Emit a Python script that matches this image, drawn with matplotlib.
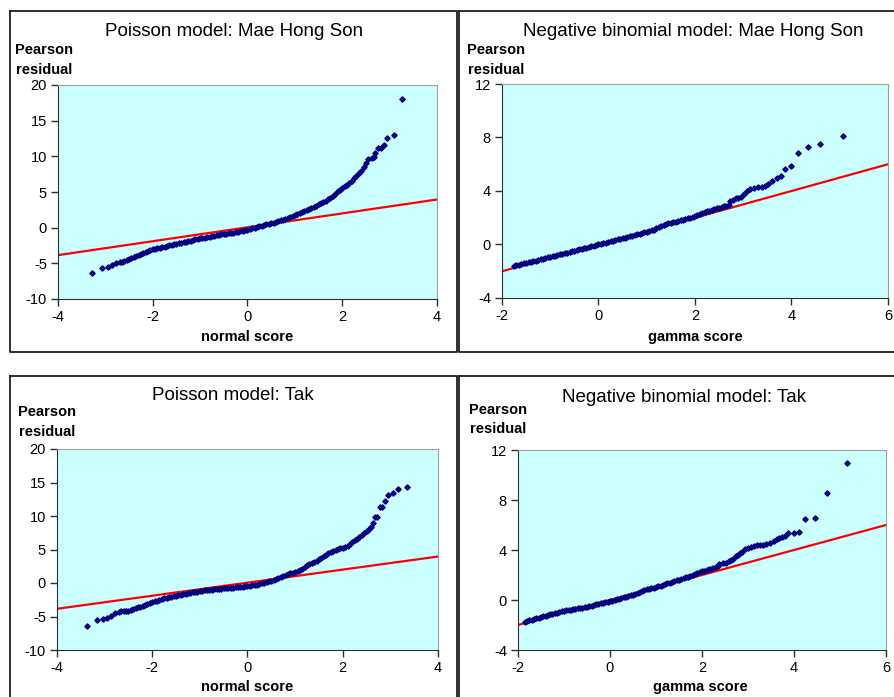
import matplotlib
matplotlib.use("Agg")
import matplotlib.pyplot as plt
from matplotlib.lines import Line2D

plt.rcParams['font.family'] = ['Liberation Sans', 'DejaVu Sans']
plt.rcParams['axes.unicode_minus'] = False

# ---------------------------------------------
#  data
# ---------------------------------------------

# Poisson model: Mae Hong Son (normal score, Pearson residual)
pois_mhs_x = [-3.28, -3.08, -2.95, -2.85, -2.78,
              -2.70, -2.65, -2.60, -2.55, -2.50, -2.45, -2.40, -2.35, -2.30, -2.25,
              -2.20, -2.15, -2.10, -2.05, -2.00, -1.95, -1.90, -1.85, -1.80, -1.75,
              -1.70, -1.65, -1.60, -1.55, -1.50, -1.45, -1.40, -1.35, -1.30, -1.25,
              -1.20, -1.15, -1.10, -1.05, -1.00, -0.95, -0.90, -0.85, -0.80, -0.75,
              -0.70, -0.65, -0.60, -0.55, -0.50, -0.45, -0.40, -0.35, -0.30, -0.25,
              -0.20, -0.15, -0.10, -0.05, 0.00, 0.05, 0.10, 0.15, 0.20, 0.25,
              0.30, 0.35, 0.40, 0.45, 0.50, 0.55, 0.60, 0.65, 0.70, 0.75,
              0.80, 0.85, 0.90, 0.95, 1.00, 1.05, 1.10, 1.15, 1.20, 1.25,
              1.30, 1.35, 1.40, 1.45, 1.50, 1.55, 1.60, 1.65, 1.70, 1.75,
              1.80, 1.85, 1.90, 1.95, 2.00, 2.05, 2.10, 2.15, 2.20, 2.25,
              2.30, 2.35, 2.40, 2.45, 2.50,
              2.55, 2.62, 2.66, 2.70, 2.75, 2.81, 2.88, 2.95, 3.09, 3.27]
pois_mhs_y = [-6.40, -5.60, -5.47, -5.20, -5.02,
              -4.85, -4.75, -4.62, -4.50, -4.37, -4.23, -4.10, -3.97, -3.83, -3.70,
              -3.57, -3.43, -3.30, -3.17, -3.05, -2.97, -2.90, -2.83, -2.75, -2.66,
              -2.58, -2.49, -2.40, -2.33, -2.25, -2.18, -2.10, -2.03, -1.95, -1.88,
              -1.80, -1.73, -1.65, -1.58, -1.50, -1.44, -1.38, -1.31, -1.25, -1.19,
              -1.13, -1.06, -1.00, -0.95, -0.90, -0.85, -0.80, -0.75, -0.70, -0.65,
              -0.60, -0.53, -0.45, -0.38, -0.30, -0.20, -0.10, 0.00, 0.10, 0.19,
              0.28, 0.36, 0.45, 0.54, 0.62, 0.71, 0.80, 0.91, 1.02, 1.13,
              1.25, 1.37, 1.50, 1.62, 1.75, 1.88, 2.02, 2.16, 2.30, 2.45,
              2.60, 2.75, 2.90, 3.07, 3.25, 3.42, 3.60, 3.80, 4.00, 4.20,
              4.40, 4.75, 5.10, 5.35, 5.60, 5.80, 6.00, 6.30, 6.60, 6.95,
              7.30, 7.65, 8.00, 8.50, 9.00,
              9.63, 9.80, 9.85, 10.40, 11.20, 11.20, 11.60, 12.60, 13.00, 18.10]

# Negative binomial model: Mae Hong Son (gamma score, Pearson residual)
nb_mhs_x = [-1.75, -1.70, -1.65, -1.60, -1.55, -1.50, -1.45, -1.40, -1.35, -1.30,
            -1.25, -1.20, -1.15, -1.10, -1.05, -1.00, -0.95, -0.90, -0.85, -0.80,
            -0.75, -0.70, -0.65, -0.60, -0.55, -0.50, -0.45, -0.40, -0.35, -0.30,
            -0.25, -0.20, -0.15, -0.10, -0.05, 0.00, 0.05, 0.10, 0.15, 0.20,
            0.25, 0.30, 0.35, 0.40, 0.45, 0.50, 0.55, 0.60, 0.65, 0.70,
            0.75, 0.80, 0.85, 0.90, 0.95, 1.00, 1.05, 1.10, 1.15, 1.20,
            1.25, 1.30, 1.35, 1.40, 1.45, 1.50, 1.55, 1.60, 1.65, 1.70,
            1.75, 1.80, 1.85, 1.90, 1.95, 2.00, 2.05, 2.10, 2.15, 2.20,
            2.25, 2.30, 2.35, 2.40, 2.45, 2.50, 2.55, 2.60, 2.65, 2.70,
            2.73, 2.78, 2.84, 2.90, 2.96, 3.02, 3.08, 3.15, 3.22, 3.30,
            3.38, 3.45, 3.52, 3.60, 3.69, 3.78, 3.87, 4.00, 4.14, 4.35,
            4.60, 5.06]
nb_mhs_y = [-1.62, -1.55, -1.50, -1.46, -1.42, -1.38, -1.34, -1.29, -1.25, -1.20,
            -1.15, -1.11, -1.06, -1.01, -0.97, -0.92, -0.87, -0.83, -0.78, -0.74,
            -0.69, -0.64, -0.60, -0.55, -0.50, -0.46, -0.41, -0.37, -0.32, -0.27,
            -0.23, -0.18, -0.13, -0.09, -0.04, 0.00, 0.05, 0.09, 0.14, 0.19,
            0.24, 0.28, 0.33, 0.38, 0.43, 0.47, 0.52, 0.57, 0.62, 0.66,
            0.71, 0.76, 0.81, 0.86, 0.91, 0.96, 1.01, 1.06, 1.12, 1.20,
            1.30, 1.40, 1.48, 1.53, 1.58, 1.62, 1.67, 1.71, 1.76, 1.80,
            1.85, 1.90, 1.95, 2.00, 2.06, 2.12, 2.19, 2.26, 2.33, 2.40,
            2.47, 2.54, 2.60, 2.65, 2.70, 2.75, 2.80, 2.85, 2.88, 2.92,
            3.25, 3.35, 3.45, 3.50, 3.55, 3.80, 4.00, 4.12, 4.22, 4.30,
            4.32, 4.38, 4.55, 4.78, 4.97, 5.15, 5.64, 5.89, 6.82, 7.31,
            7.55, 8.14]

# Poisson model: Tak
pois_tak_x = [-3.36, -3.16, -3.04, -2.95, -2.86, -2.78, -2.70, -2.65,
              -2.60, -2.55, -2.50, -2.45, -2.40, -2.35, -2.30, -2.25, -2.20, -2.15,
              -2.10, -2.05, -2.00, -1.95, -1.90, -1.85, -1.80, -1.75, -1.70, -1.65,
              -1.60, -1.55, -1.50, -1.45, -1.40, -1.35, -1.30, -1.25, -1.20, -1.15,
              -1.10, -1.05, -1.00, -0.95, -0.90, -0.85, -0.80, -0.75, -0.70, -0.65,
              -0.60, -0.55, -0.50, -0.45, -0.40, -0.35, -0.30, -0.25, -0.20, -0.15,
              -0.10, -0.05, 0.00, 0.05, 0.10, 0.15, 0.20, 0.25, 0.30, 0.35,
              0.40, 0.45, 0.50, 0.55, 0.60, 0.65, 0.70, 0.75, 0.80, 0.85,
              0.90, 0.95, 1.00, 1.05, 1.10, 1.15, 1.20, 1.25, 1.30, 1.35,
              1.40, 1.45, 1.50, 1.55, 1.60, 1.65, 1.70, 1.75, 1.80, 1.85,
              1.90, 1.95, 2.00, 2.05, 2.10, 2.15, 2.20, 2.25, 2.30, 2.35,
              2.40, 2.45, 2.50, 2.55,
              2.60, 2.64, 2.67, 2.72, 2.78, 2.83, 2.88, 2.94, 3.05, 3.17, 3.35]
pois_tak_y = [-6.37, -5.50, -5.37, -5.27, -4.95, -4.50, -4.30, -4.25,
              -4.22, -4.18, -4.12, -4.00, -3.88, -3.76, -3.64, -3.53, -3.41, -3.29,
              -3.15, -3.00, -2.86, -2.74, -2.62, -2.50, -2.39, -2.29, -2.20, -2.12,
              -2.04, -1.97, -1.90, -1.83, -1.76, -1.69, -1.62, -1.55, -1.48, -1.41,
              -1.34, -1.27, -1.20, -1.15, -1.11, -1.07, -1.02, -0.98, -0.93, -0.89,
              -0.86, -0.83, -0.80, -0.77, -0.74, -0.71, -0.68, -0.65, -0.62, -0.59,
              -0.56, -0.52, -0.48, -0.43, -0.37, -0.31, -0.24, -0.17, -0.07, 0.05,
              0.15, 0.26, 0.37, 0.48, 0.60, 0.72, 0.87, 1.02, 1.15, 1.28,
              1.42, 1.50, 1.63, 1.80, 1.95, 2.08, 2.35, 2.62, 2.80, 2.95,
              3.15, 3.35, 3.55, 3.80, 4.05, 4.25, 4.45, 4.62, 4.80, 4.95,
              5.05, 5.15, 5.25, 5.35, 5.50, 5.80, 6.10, 6.45, 6.60, 6.90,
              7.20, 7.50, 7.75, 8.05,
              8.40, 8.90, 9.80, 9.85, 11.40, 11.40, 12.30, 13.10, 13.50, 14.00, 14.35]

# Negative binomial model: Tak
nb_tak_x = [-1.85, -1.80, -1.75, -1.70, -1.65, -1.60, -1.55, -1.50, -1.45, -1.40,
            -1.35, -1.30, -1.25, -1.20, -1.15, -1.10, -1.05, -1.00, -0.95, -0.90,
            -0.85, -0.80, -0.75, -0.70, -0.65, -0.60, -0.55, -0.50, -0.45, -0.40,
            -0.35, -0.30, -0.25, -0.20, -0.15, -0.10, -0.05, 0.00, 0.05, 0.10,
            0.15, 0.20, 0.25, 0.30, 0.35, 0.40, 0.45, 0.50, 0.55, 0.60,
            0.65, 0.70, 0.75, 0.80, 0.85, 0.90, 0.95, 1.00, 1.05, 1.10,
            1.15, 1.20, 1.25, 1.30, 1.35, 1.40, 1.45, 1.50, 1.55, 1.60,
            1.65, 1.70, 1.75, 1.80, 1.85, 1.90, 1.95, 2.00, 2.05, 2.10,
            2.15, 2.20, 2.25, 2.30, 2.35,
            2.38, 2.45, 2.52, 2.58, 2.63, 2.68, 2.73, 2.78, 2.83, 2.88,
            2.94, 3.00, 3.06, 3.12, 3.19, 3.26, 3.33, 3.40, 3.48, 3.56,
            3.62, 3.68, 3.74, 3.80, 3.88, 4.01, 4.11, 4.25, 4.46, 4.72, 5.16]
nb_tak_y = [-1.76, -1.70, -1.62, -1.56, -1.50, -1.45, -1.40, -1.35, -1.30, -1.25,
            -1.20, -1.15, -1.10, -1.05, -1.00, -0.95, -0.90, -0.85, -0.82, -0.79,
            -0.76, -0.73, -0.70, -0.67, -0.63, -0.60, -0.56, -0.52, -0.48, -0.44,
            -0.39, -0.35, -0.30, -0.26, -0.22, -0.17, -0.12, -0.08, -0.04, 0.01,
            0.06, 0.11, 0.17, 0.22, 0.27, 0.32, 0.38, 0.43, 0.49, 0.55,
            0.62, 0.70, 0.78, 0.85, 0.90, 0.95, 1.00, 1.05, 1.10, 1.15,
            1.21, 1.27, 1.33, 1.39, 1.45, 1.51, 1.57, 1.63, 1.69, 1.76,
            1.82, 1.88, 1.96, 2.04, 2.11, 2.18, 2.24, 2.30, 2.35, 2.40,
            2.45, 2.50, 2.56, 2.62, 2.70,
            2.88, 2.93, 3.00, 3.10, 3.18, 3.30, 3.50, 3.62, 3.75, 3.88,
            4.05, 4.20, 4.28, 4.32, 4.38, 4.40, 4.43, 4.50, 4.60, 4.72,
            4.85, 4.97, 5.05, 5.15, 5.33, 5.35, 5.45, 6.45, 6.53, 8.59, 10.99]

# reference lines (end points across each x range)
pois_line_x = [-4, 4]
pois_line_y = [-3.85, 3.95]
nb_line_x = [-2, 6]
nb_line_y = [-2.0, 6.0]

W, H = 895, 697
fig = plt.figure(figsize=(W / 100, H / 100), dpi=100)


def box(left, top, right, bottom):
    # axes rectangle from pixel edges
    return [left / W, 1 - bottom / H, (right - left) / W, (bottom - top) / H]


def frame(x0, y0, x1, y1):
    xs = [x0 / W, x1 / W, x1 / W, x0 / W, x0 / W]
    ys = [1 - y0 / H, 1 - y0 / H, 1 - y1 / H, 1 - y1 / H, 1 - y0 / H]
    fig.add_artist(Line2D(xs, ys, color='#202020', lw=1.3))


def panel(rect, xs, ys, lx, ly, xlim, ylim, yticks, title, xlabel,
          title_pos, lab_pos, xlab_pos):
    ax = fig.add_axes(rect)
    ax.set_facecolor('#CCFFFF')
    ax.plot(lx, ly, color='#FF0000', lw=1.6, zorder=2)
    ax.plot(xs, ys, ls='none', marker='D', ms=2.7, color='#000080',
            mec='#000080', zorder=3)
    ax.set_xlim(*xlim)
    ax.set_ylim(*ylim)
    ax.set_xticks(range(xlim[0], xlim[1] + 1, 2))
    ax.set_yticks(yticks)
    ax.tick_params(direction='out', length=5, width=1, colors='#303030',
                   labelsize=10.5, labelcolor='black', pad=3)
    for s in ['top', 'right']:
        ax.spines[s].set_color('#A0A0A0')
    for s in ['left', 'bottom']:
        ax.spines[s].set_color('#303030')
    fig.text(title_pos[0] / W, 1 - title_pos[1] / H, title, ha='center',
             va='center', fontsize=13.5)
    fig.text(lab_pos[0] / W, 1 - lab_pos[1] / H, 'Pearson\nresidual',
             ha='center', va='center', fontsize=10.5, fontweight='bold',
             linespacing=1.5)
    fig.text(xlab_pos[0] / W, 1 - xlab_pos[1] / H, xlabel, ha='center',
             va='center', fontsize=10.5, fontweight='bold')
    return ax


panel(box(58, 85, 437, 299), pois_mhs_x, pois_mhs_y, pois_line_x, pois_line_y,
      (-4, 4), (-10, 20), [-10, -5, 0, 5, 10, 15, 20],
      'Poisson model: Mae Hong Son', 'normal score',
      (234, 31), (44.5, 60), (247.5, 337))
panel(box(502, 84, 888, 298), nb_mhs_x, nb_mhs_y, nb_line_x, nb_line_y,
      (-2, 6), (-4, 12), [-4, 0, 4, 8, 12],
      'Negative binomial model: Mae Hong Son', 'gamma score',
      (693, 31), (496, 60), (695, 337))
panel(box(57, 449, 438, 650), pois_tak_x, pois_tak_y, pois_line_x, pois_line_y,
      (-4, 4), (-10, 20), [-10, -5, 0, 5, 10, 15, 20],
      'Poisson model: Tak', 'normal score',
      (233, 396), (47, 422), (247, 687))
panel(box(518, 450, 886, 650), nb_tak_x, nb_tak_y, nb_line_x, nb_line_y,
      (-2, 6), (-4, 12), [-4, 0, 4, 8, 12],
      'Negative binomial model: Tak', 'gamma score',
      (684.5, 397), (498, 419.5), (700, 686.5))

# chart borders
frame(10.5, 10.5, 457.5, 352)
frame(459.5, 10.5, 905, 352)
frame(10.5, 376, 457.5, 710)
frame(459.5, 376, 905, 710)

fig.savefig('out.png', dpi=100, facecolor='white')
